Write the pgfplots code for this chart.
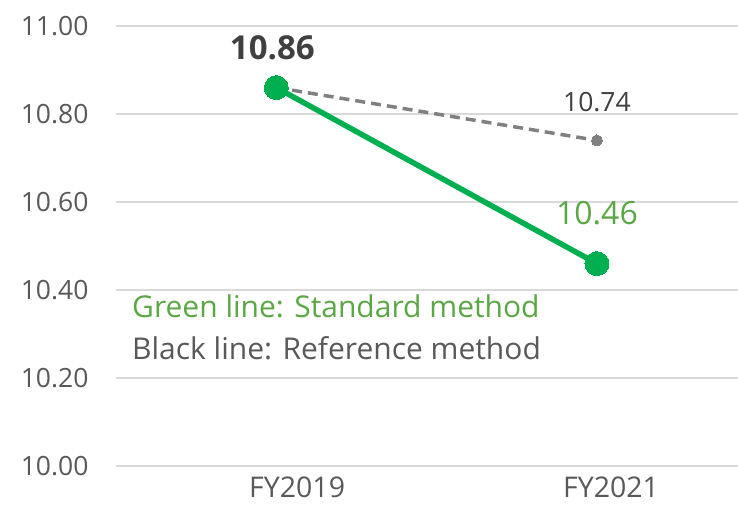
\documentclass[border=0pt]{standalone}
\usepackage{pgfplots}
\pgfplotsset{compat=1.18}
\usepackage{fontspec}
\setmainfont{Open Sans}
\definecolor{gridc}{HTML}{D9D9D9}
\definecolor{tick}{HTML}{595959}
\definecolor{gline}{HTML}{00B050}
\definecolor{gtext}{HTML}{5BA745}
\definecolor{refline}{HTML}{808080}
\definecolor{dark}{HTML}{404040}
\begin{document}
\begin{tikzpicture}[x=1pt,y=1pt]
\useasboundingbox (0,0) rectangle (738,508);
\begin{axis}[
  at={(116pt,42pt)}, anchor=south west,
  scale only axis, width=622pt, height=440pt,
  xmin=-0.5, xmax=1.44, ymin=10, ymax=11,
  xtick={0.065,1.044}, xticklabels={FY2019,FY2021},
  ytick={10,10.2,10.4,10.6,10.8,11},
  /pgf/number format/fixed, /pgf/number format/fixed zerofill, /pgf/number format/precision=2, /pgf/number format/assume math mode=true,
  ymajorgrids, grid style={draw=gridc, line width=1.3pt},
  axis line style={draw=none},
  major tick length=0pt,
  tick label style={font=\fontsize{26.5}{30}\selectfont, text=tick},
  yticklabel style={xshift=-24pt},
  xticklabel style={yshift=-10pt, font=\fontsize{28.5}{31}\selectfont, inner sep=1pt},
  clip=false,
]
\addplot[refline, line width=3.5pt, dash pattern=on 10pt off 6pt, mark=*, mark size=5.5pt, mark options={solid, fill=refline, draw=refline, line width=0pt}]
  coordinates {(0,10.86) (1,10.74)};
\addplot[gline, line width=5.5pt, mark=*, mark size=12pt, mark options={fill=gline, draw=gline, line width=0pt}]
  coordinates {(0,10.86) (1,10.46)};
\node[text=dark, font=\fontsize{33}{36}\selectfont\bfseries] at (axis cs:0,10.86) [xshift=-4pt, yshift=40pt] {10.86};
\node[text=dark, font=\fontsize{26.5}{30}\selectfont] at (axis cs:1,10.74) [yshift=38pt] {10.74};
\node[text=gtext, font=\fontsize{32}{36}\selectfont] at (axis cs:1,10.46) [yshift=50pt] {10.46};
\node[anchor=west, text=gtext, font=\fontsize{30}{34}\selectfont, inner sep=0pt] at (rel axis cs:0.0257,0.364) {Green line: Standard method};
\node[anchor=west, text=tick, font=\fontsize{30}{34}\selectfont, inner sep=0pt] at (rel axis cs:0.0257,0.268) {Black line: Reference method};
\end{axis}
\end{tikzpicture}
\end{document}
